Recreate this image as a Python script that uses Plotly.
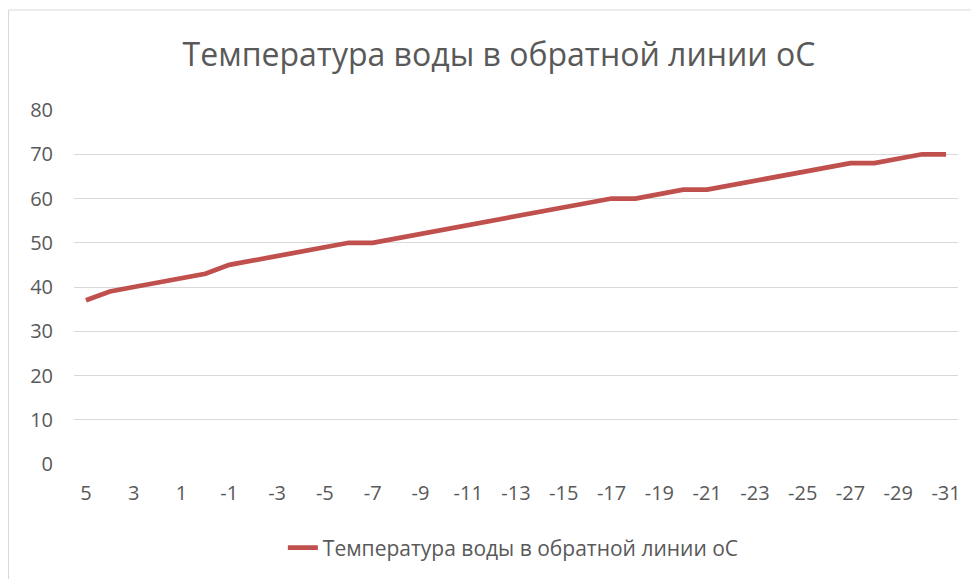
import plotly.graph_objects as go

categories = [str(v) for v in [5, 4, 3, 2, 1, 0, -1, -2, -3, -4, -5, -6, -7, -8, -9, -10, -11, -12,
                                -13, -14, -15, -16, -17, -18, -19, -20, -21, -22, -23, -24, -25,
                                -26, -27, -28, -29, -30, -31]]
values = [37, 39, 40, 41, 42, 43, 45, 46, 47, 48, 49, 50, 50, 51, 52, 53, 54, 55,
          56, 57, 58, 59, 60, 60, 61, 62, 62, 63, 64, 65, 66, 67, 68, 68, 69, 70, 70]
series_name = "Температура воды в обратной линии оС"
title_text = "Температура воды в обратной линии оС"
y_ticks = [0, 10, 20, 30, 40, 50, 60, 70, 80]

FONT = "Open Sans"
TXT = "#595959"

# page is offset by 8px body margin; plot area target (page px): x 74..958, y 110..464
L, R, T, B = 66, 29, 102, 123
PW, PH = 979 - L - R, 579 - T - B

fig = go.Figure()
fig.add_trace(go.Scatter(
    x=categories, y=values, mode="lines", name=series_name,
    line=dict(color="#C0504D", width=4.75),
))

fig.update_layout(
    width=979, height=579,
    margin=dict(l=L, r=R, t=T, b=B),
    paper_bgcolor="white", plot_bgcolor="white",
    font=dict(family=FONT, color=TXT, size=20),
    title=dict(text=title_text, x=(L + PW / 2 - 17) / 979, xanchor="center",
               y=1 - 47 / 579, yanchor="middle",
               font=dict(family=FONT, size=32, color=TXT)),
    showlegend=True,
    legend=dict(orientation="h", x=0.497, xanchor="center", y=(PH - (540 - T)) / PH,
                yanchor="middle", font=dict(family=FONT, size=21, color=TXT)),
    xaxis=dict(type="category", range=[-0.5, 36.5], tickmode="array",
               tickvals=categories[::2], ticktext=categories[::2],
               showgrid=False, showline=False, ticks="", zeroline=False,
               ticklabelstandoff=15, tickfont=dict(size=20, color=TXT)),
    yaxis=dict(range=[0, 80], tickvals=y_ticks, showgrid=True, gridcolor="#D9D9D9",
               gridwidth=1, zeroline=False, showline=False, ticks="",
               ticklabelstandoff=20, tickfont=dict(size=20, color=TXT)),
    shapes=[dict(type="rect", xref="paper", yref="paper",
                 x0=(0.5 - L) / PW, x1=(990 - L) / PW,
                 y0=(PH - (600 - T)) / PH, y1=(PH - (2 - T)) / PH,
                 line=dict(color="#D9D9D9", width=1), fillcolor="rgba(0,0,0,0)",
                 layer="below")],
)

fig.write_html("out.html")
